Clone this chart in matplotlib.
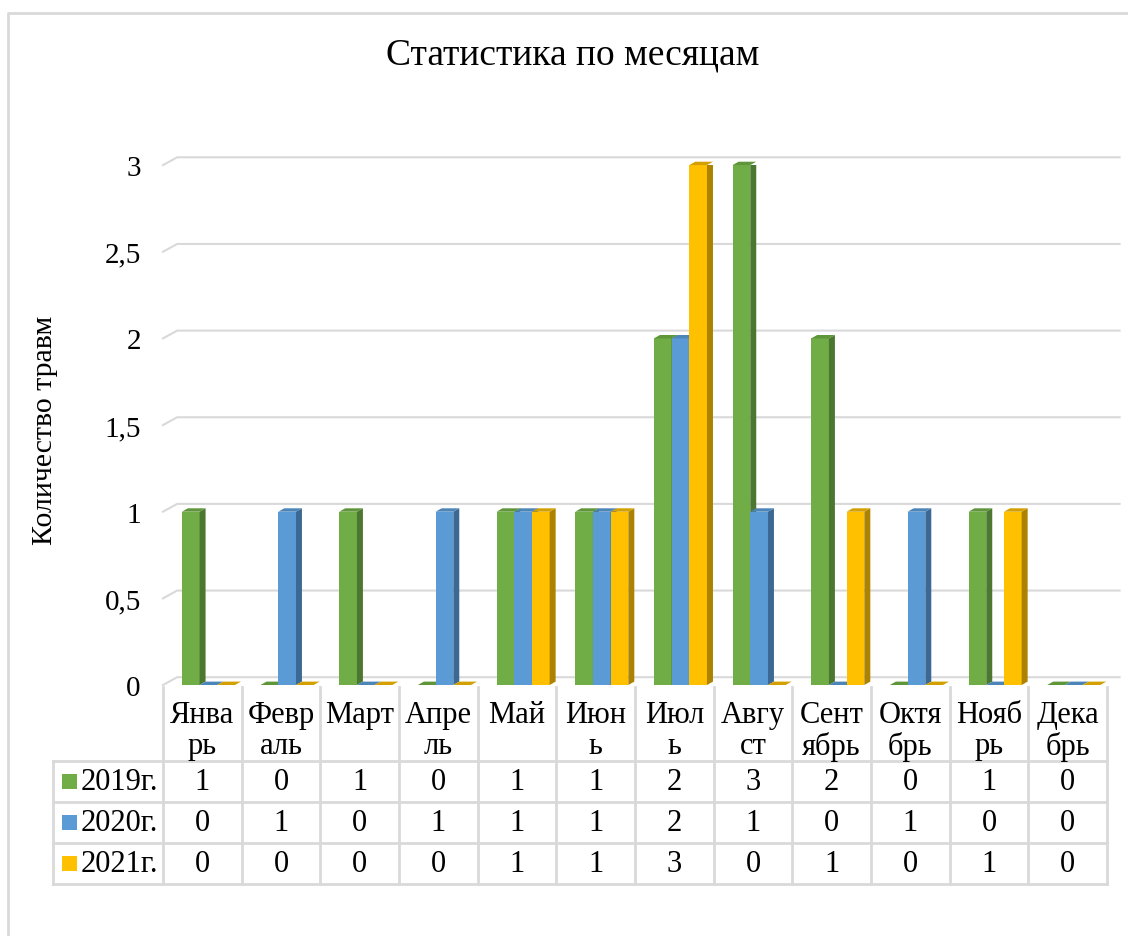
import matplotlib.pyplot as plt
from matplotlib.patches import Polygon, Rectangle
from matplotlib.lines import Line2D
from matplotlib.transforms import blended_transform_factory
from matplotlib.ticker import FuncFormatter

# данные
months = ["Янва\nрь", "Февр\nаль", "Март", "Апре\nль", "Май", "Июн\nь",
          "Июл\nь", "Авгу\nст", "Сент\nябрь", "Октя\nбрь", "Нояб\nрь", "Дека\nбрь"]
series = ["2019г.", "2020г.", "2021г."]
y2019 = [1, 0, 1, 0, 1, 1, 2, 3, 2, 0, 1, 0]
y2020 = [0, 1, 0, 1, 1, 1, 2, 1, 0, 1, 0, 0]
y2021 = [0, 0, 0, 0, 1, 1, 3, 0, 1, 0, 1, 0]
yticks = [0, 0.5, 1, 1.5, 2, 2.5, 3]

front = ["#70AD47", "#5B9BD5", "#FFC000"]
side = ["#4B7730", "#3C6894", "#AD8200"]
top = ["#5E9639", "#4C85B8", "#D4A000"]
grid_c = "#d9d9d9"

plt.rcParams['font.family'] = ['Liberation Serif', 'DejaVu Serif']
FS = 22

W, H = 1128, 937
fig = plt.figure(figsize=(W / 100, H / 100), dpi=100)
ax = fig.add_axes([163 / W, 1 - 686 / H, 944 / W, 3 * 173.3 / H])
ax.set_xlim(0, 12)
ax.set_ylim(0, 3)
for s in ax.spines.values():
    s.set_visible(False)
ax.set_xticks([])
ax.set_yticks(yticks)
ax.yaxis.set_major_formatter(FuncFormatter(lambda v, p: f"{v:g}".replace(".", ",")))
ax.tick_params(axis='y', length=0, pad=16, labelsize=21)

# сетка (задняя стенка + скос)
for v in yticks:
    ax.plot([0, 0.18, 12.16], [v, v + 0.045, v + 0.045], color=grid_c, lw=1.5,
            clip_on=False, zorder=1)

# столбцы с объёмом
w = 0.225
dx = 6 / 78.67
dy = 3.4 / 173.3
data = [y2019, y2020, y2021]
for j in range(len(months)):
    for i, vals in enumerate(data):
        v = vals[j]
        x0 = j + 0.24 + i * w
        if v > 0:
            ax.add_patch(Rectangle((x0, 0), w, v, facecolor=front[i], lw=0, zorder=3))
            ax.add_patch(Polygon([(x0 + w, 0), (x0 + w + dx, dy), (x0 + w + dx, v + dy), (x0 + w, v)],
                                 closed=True, facecolor=side[i], lw=0, zorder=3))
        ax.add_patch(Polygon([(x0, v), (x0 + w, v), (x0 + w + dx, v + dy), (x0 + dx, v + dy)],
                             closed=True, facecolor=top[i], lw=0, zorder=3, clip_on=False))

# таблица данных
tr = blended_transform_factory(ax.transData, fig.transFigure)


def fy(px):
    return 1 - px / H


leg_x = (53 - 163) / 78.67
rows = [762, 803, 844, 885]
for j in range(len(months) + 1):
    ax.add_line(Line2D([j, j], [fy(688), fy(885)], transform=tr, color=grid_c, lw=2, clip_on=False))
ax.add_line(Line2D([leg_x, leg_x], [fy(762), fy(885)], transform=tr, color=grid_c, lw=2, clip_on=False))
for r in rows:
    ax.add_line(Line2D([leg_x, 12], [fy(r), fy(r)], transform=tr, color=grid_c, lw=2, clip_on=False))

for j, m in enumerate(months):
    ax.text(j + 0.5, fy(701), m, transform=tr, ha='center', va='top', fontsize=FS,
            linespacing=1.07, clip_on=False)

for i, vals in enumerate(data):
    yc = fy((rows[i] + rows[i + 1]) / 2)
    for j, v in enumerate(vals):
        ax.text(j + 0.5, yc, str(v), transform=tr, ha='center', va='center', fontsize=FS)
    ax.add_patch(Rectangle(((62 - 163) / 78.67, yc - 7.5 / H), 15 / 78.67, 15 / H,
                           transform=tr, facecolor=front[i], lw=0, clip_on=False))
    ax.text((81 - 163) / 78.67, yc, series[i], transform=tr, ha='left', va='center', fontsize=FS)

fig.text(45 / W, fy(430), "Количество травм", rotation=90, ha='center', va='center', fontsize=21.5)
fig.text(573 / W, fy(55), "Статистика по месяцам", ha='center', va='center', fontsize=27)

# рамка диаграммы
fig.add_artist(Line2D([8 / W, 8 / W, 1], [0, fy(14), fy(14)], transform=fig.transFigure,
                      color=grid_c, lw=2))

fig.savefig("out.png", dpi=100)
